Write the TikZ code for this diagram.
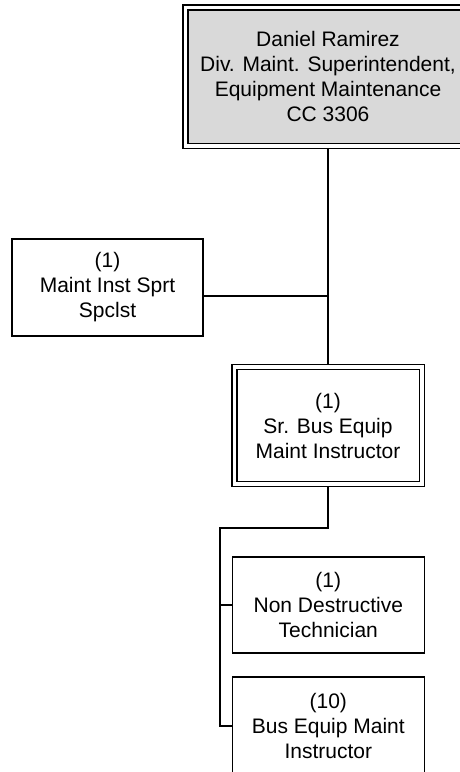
\documentclass[tikz,border=0pt]{standalone}
\usepackage{fontspec}
\setmainfont{Liberation Sans}
\usetikzlibrary{backgrounds}
\begin{document}
\begin{tikzpicture}[x=1pt,y=-1pt,
  box/.style={draw=black, line width=1.5pt, fill=white, rectangle, inner sep=0pt,
    align=center, font=\fontsize{21}{25}\selectfont},
  dbox/.style={box, double=white, double distance=3.5pt},
  conn/.style={line width=1.8pt}]
\useasboundingbox (0,0) rectangle (460,772);
\node[dbox, fill=black!15, minimum width=285pt, minimum height=138.5pt] (top) at (328,76.75)
  {Daniel Ramirez\\Div. Maint. Superintendent,\\Equipment Maintenance\\CC 3306};
\node[box, minimum width=191pt, minimum height=97pt] (left) at (107.5,287.5)
  {(1)\\Maint Inst Sprt\\Spclst};
\node[dbox, minimum width=187.5pt, minimum height=117pt] (mid) at (328,425.5)
  {(1)\\Sr. Bus Equip\\Maint Instructor};
\node[box, minimum width=192pt, minimum height=96pt] (nd) at (328.3,605)
  {(1)\\Non Destructive\\Technician};
\node[box, minimum width=192pt, minimum height=98pt] (be) at (328.3,726)
  {(10)\\Bus Equip Maint\\Instructor};
\coordinate (j1) at (328,296);
\coordinate (j2) at (328,528);
\coordinate (j3) at (220,528);
\begin{scope}[on background layer]
  \draw[conn] (top.south) -- (mid.north);
  \draw[conn] (j1 -| left.east) -- (j1);
  \draw[conn] (mid.south) -- (j2) -- (j3) |- (be.west);
  \draw[conn] (j3 |- nd.west) -- (nd.west);
\end{scope}
\end{tikzpicture}
\end{document}
